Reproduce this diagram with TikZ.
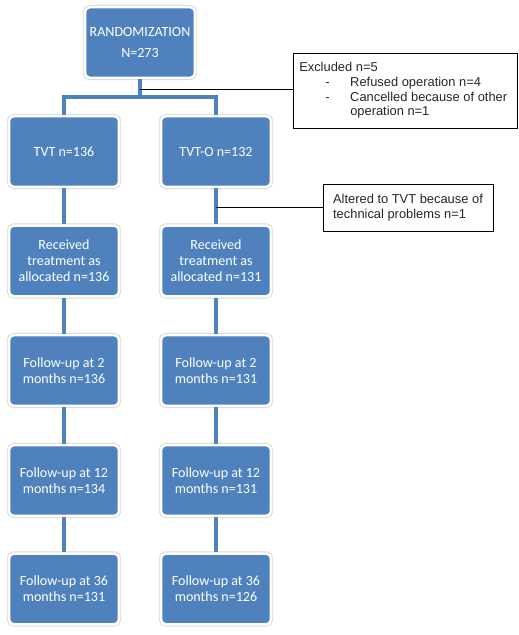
\documentclass[tikz,border=0pt]{standalone}
\usepackage{fontspec}
\setmainfont{Carlito}
\newfontfamily\notefont{Liberation Sans}
\definecolor{boxblue}{RGB}{79,129,189}

\begin{document}
\begin{tikzpicture}[x=0.03cm, y=-0.03cm,
  stage/.style={rectangle, rounded corners=4pt, fill=boxblue, draw=white,
    line width=2.2pt, preaction={draw=black!15, line width=3.8pt},
    minimum width=3.3cm, minimum height=2.12cm, text=white, align=center,
    font=\fontsize{12}{13.6}\selectfont, inner sep=2pt},
  note/.style={rectangle, draw=black, line width=0.8pt, align=left,
    text=black!85, font=\notefont\fontsize{11}{12.8}\selectfont},
  link/.style={draw=boxblue, line width=3pt},
  remark/.style={draw=black, line width=0.8pt}]
  \useasboundingbox (0,0) rectangle (518,635);

  \node[stage] (rand) at (140, 42.5) {RANDOMIZATION\\[5pt]N=273};

  \node[stage] (tvt) at (64, 151.5) {TVT n=136};
  \node[stage] (tvto) at (216, 151.5) {TVT-O n=132};

  \node[stage] (rec1) at (64, 261) {Received\\treatment as\\allocated n=136};
  \node[stage] (rec2) at (216, 261) {Received\\treatment as\\allocated n=131};

  \node[stage] (fu2a) at (64, 370.5) {Follow-up at 2\\months n=136};
  \node[stage] (fu2b) at (216, 370.5) {Follow-up at 2\\months n=131};

  \node[stage] (fu12a) at (64, 480.5) {Follow-up at 12\\months n=134};
  \node[stage] (fu12b) at (216, 480.5) {Follow-up at 12\\months n=131};

  \node[stage] (fu36a) at (64, 589) {Follow-up at 36\\months n=131};
  \node[stage] (fu36b) at (216, 589) {Follow-up at 36\\months n=126};

  % side notes
  \node[note, minimum width=6.72cm, minimum height=2.25cm] (excl) at (405, 90.5) {
    \begin{tabular}{@{}p{0.78cm}@{}p{0.75cm}@{}l@{}}
      \multicolumn{3}{@{}l@{}}{Excluded n=5}\\
      & - & Refused operation n=4\\
      & - & Cancelled because of other\\
      & & operation n=1
    \end{tabular}
  };
  \node[note, minimum width=5.1cm, minimum height=1.41cm] (alt) at (408, 207.5) {
    Altered to TVT because of\\technical problems n=1
  };

  \coordinate (split) at (140, 97);
  \coordinate (exit) at (140, 89);
  \coordinate (swap) at (216, 207);

  \draw[link] (rand) -- (split);
  \draw[link] (tvt) |- (split) -| (tvto);
  \draw[link] (tvt) -- (rec1);
  \draw[link] (tvto) -- (rec2);
  \draw[link] (rec1) -- (fu2a);
  \draw[link] (rec2) -- (fu2b);
  \draw[link] (fu2a) -- (fu12a);
  \draw[link] (fu2b) -- (fu12b);
  \draw[link] (fu12a) -- (fu36a);
  \draw[link] (fu12b) -- (fu36b);

  \draw[remark] (exit) -- (exit -| excl.west);
  \draw[remark] (swap) -- (swap -| alt.west);
\end{tikzpicture}
\end{document}
